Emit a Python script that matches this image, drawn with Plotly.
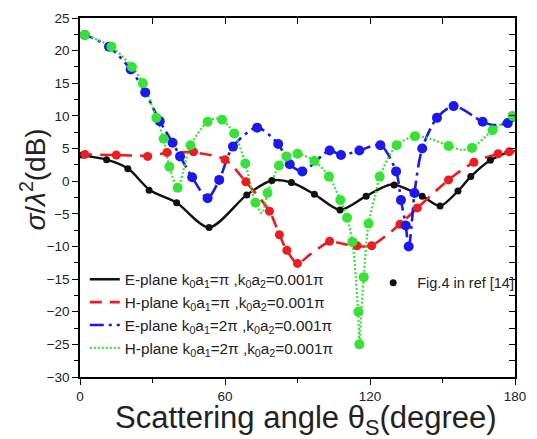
import plotly.graph_objects as go

# ---------------- data ----------------
# theory curves (scattering angle in degree, sigma/lambda^2 in dB)
black_theta = [0, 11, 20, 29, 40, 53.4, 69, 79.4, 87.5, 97, 107.6, 118.4, 129, 141.6, 149, 156.4, 161.7, 169.8, 177.6, 180]
black_db = [4.0, 3.3, 1.9, -1.4, -3.3, -7.1, -2.1, 0.1, -0.2, -2.0, -4.4, -2.3, -0.5, -2.3, -3.8, -1.5, 0.7, 3.2, 4.5, 4.6]

red_theta = [0, 15, 28, 36, 47, 60, 68.6, 78.4, 82.5, 85.6, 90, 95, 103.3, 110, 117, 121, 132.4, 139.6, 152.5, 163, 173, 180]
red_db = [4.1, 4.0, 3.9, 4.3, 4.4, 3.3, -0.1, -4.6, -8.2, -10.6, -12.6, -11.3, -9.3, -9.7, -10.0, -9.8, -6.6, -4.1, 0.2, 2.9, 4.2, 4.6]

blue_theta = [0, 2, 12, 21, 27, 33, 38.3, 41.4, 46.4, 52.8, 57.6, 63.3, 73.3, 82, 86.8, 92, 103.3, 108, 115.6, 124.3,
              130.8, 132.8, 134.8, 136, 137.2, 138.4, 141.6, 147.7, 154.6, 166.6, 171, 177, 180]
blue_db = [22.5, 22.4, 20.6, 17.1, 13.6, 9.2, 5.9, 3.8, 0.6, -2.6, 0.2, 5.3, 8.2, 5.7, 2.6, 1.5, 4.7, 4.0, 4.7, 5.5,
           1.5, -2.9, -6.8, -10.4, -6.8, -1.8, 5.0, 9.7, 11.5, 9.1, 8.6, 8.9, 9.5]

green_theta = [0, 2, 13, 21.5, 26, 31.6, 34.6, 37, 40.4, 45.7, 52.8, 56, 58.8, 63.8, 68.4, 72.6, 75.3, 77.6, 82.3, 85.4,
               90, 97, 103, 107.7, 110.5, 112.7, 114.2, 115.1, 115.7, 116.4, 117.4, 119.4, 122.3, 124, 131, 138.6,
               145, 152.5, 158, 162.2, 170.7, 179, 180]
green_db = [22.6, 22.4, 20.6, 17.5, 15.0, 9.7, 6.5, 2.2, -1.0, 5.5, 9.1, 9.6, 9.4, 7.3, 2.7, -3.3, -4.9, -1.8, 2.4, 3.8,
            4.2, 3.1, 0.7, -2.9, -5.6, -9.3, -15.0, -20.0, -25.2, -20.0, -14.7, -6.5, -2.0, 0.7, 5.5, 6.9,
            6.5, 5.4, 4.8, 5.1, 7.8, 10.0, 10.1]

# reference data points (Fig.4 in ref [14])
black_ref_theta = [1, 11, 19.8, 28.6, 40, 53.4, 69, 79.4, 87.5, 97, 107.6, 118.4, 130, 141.6, 149, 156.4, 161.7, 169.8, 177.6]
black_ref_db = [4.0, 3.3, 1.9, -1.4, -3.3, -7.1, -2.1, 0.1, -0.2, -2.0, -4.4, -2.3, -0.6, -2.3, -3.8, -1.5, 0.7, 3.2, 4.5]

red_ref_theta = [2, 15, 28, 36, 47, 60, 68.6, 78.4, 82.5, 85.6, 90, 103.3, 114.6, 120.7, 132.4, 139.6, 152.5, 163, 173, 177.6]
red_ref_db = [4.1, 4.0, 3.8, 4.4, 4.5, 3.3, -0.1, -4.6, -8.2, -10.6, -12.6, -9.2, -9.9, -9.9, -6.6, -4.1, 0.2, 2.9, 4.2, 4.5]

blue_ref_theta = [2, 12, 21, 27, 33, 38.3, 41.4, 46.4, 52.8, 57.6, 63.3, 73.3, 82, 86.8, 92, 103.3, 108, 115.6, 124.3,
                  130.8, 132.8, 134.8, 136, 138.4, 141.6, 147.7, 154.6, 166.6, 177]
blue_ref_db = [22.4, 20.6, 17.1, 13.6, 9.2, 5.9, 3.8, 0.6, -2.6, 0.2, 5.3, 8.2, 5.7, 2.6, 1.5, 4.7, 4.0, 4.7, 5.5,
               1.5, -2.9, -6.8, -10.0, -1.8, 5.0, 9.7, 11.5, 9.1, 8.9]

green_ref_theta = [2, 13, 21.5, 26, 31.6, 34.6, 37, 40.4, 45.7, 52.8, 58.8, 63.8, 68.4, 72.6, 77.6, 82.3, 85.4, 90, 97,
                   103, 107.7, 110.5, 112.7, 115.2, 115.6, 117.4, 119.4, 124, 131, 138.6, 152.5, 162.2, 170.7, 179]
green_ref_db = [22.4, 20.6, 17.5, 15.0, 9.7, 6.5, 2.2, -1.0, 5.5, 9.1, 9.4, 7.3, 2.7, -3.3, -1.8, 2.4, 3.8, 4.2, 3.1,
                0.7, -2.9, -5.6, -9.3, -20.0, -25.0, -14.7, -6.5, 0.7, 5.5, 6.9, 5.4, 5.1, 7.8, 10.0]

series_names = [
    "E-plane k<sub>0</sub>a<sub>1</sub>=π ,k<sub>0</sub>a<sub>2</sub>=0.001π",
    "H-plane k<sub>0</sub>a<sub>1</sub>=π ,k<sub>0</sub>a<sub>2</sub>=0.001π",
    "E-plane k<sub>0</sub>a<sub>1</sub>=2π ,k<sub>0</sub>a<sub>2</sub>=0.001π",
    "H-plane k<sub>0</sub>a<sub>1</sub>=2π ,k<sub>0</sub>a<sub>2</sub>=0.001π",
]
ref_name = "\u00a0Fig.4 in ref [14]"

x_ticks = [0, 60, 120, 180]
y_ticks = [25, 20, 15, 10, 5, 0, -5, -10, -15, -20, -25, -30]

x_title = "Scattering angle θ<sub>S</sub>(degree)"
y_title = "<i>σ</i>/<i>λ</i><sup>2</sup>(dB)"

# ---------------- styling ----------------
FONT = "Liberation Sans, Arial, sans-serif"
c_black, c_red, c_blue, c_green = "#111111", "#ee1c1c", "#1a1aee", "#36e236"

fig = go.Figure()

lines = [
    (black_theta, black_db, c_black, "solid", 2.4),
    (red_theta, red_db, c_red, "12px,8px", 2.6),
    (blue_theta, blue_db, c_blue, "14px,5px,3px,5px", 2.6),
    (green_theta, green_db, c_green, "2px,2px", 2.2),
]
for (tx, ty, col, dash, w), name in zip(lines, series_names):
    fig.add_trace(go.Scatter(
        x=tx, y=ty, mode="lines", name=name,
        line=dict(color=col, width=w, dash=dash, shape="spline", smoothing=0.8),
        legend="legend", hoverinfo="skip",
    ))

refs = [
    (black_ref_theta, black_ref_db, c_black, 7),
    (red_ref_theta, red_ref_db, c_red, 9),
    (blue_ref_theta, blue_ref_db, c_blue, 10),
    (green_ref_theta, green_ref_db, c_green, 10),
]
for i, (tx, ty, col, sz) in enumerate(refs):
    fig.add_trace(go.Scatter(
        x=tx, y=ty, mode="markers", name=ref_name,
        marker=dict(color=col, size=sz, line=dict(width=0)),
        showlegend=(i == 0), legend="legend2", hoverinfo="skip",
    ))

# dummy trace to activate mirror axes (top/right, inward ticks)
fig.add_trace(go.Scatter(x=[None], y=[None], xaxis="x2", yaxis="y2", showlegend=False, hoverinfo="skip"))

axis_common = dict(showgrid=False, zeroline=False, linecolor="black", linewidth=1.5,
                   tickcolor="black", tickwidth=1.2, ticklen=6,
                   tickfont=dict(family=FONT, size=13.5, color="#222"))

fig.update_layout(
    width=537, height=439,
    margin=dict(l=80, r=11, t=13, b=62),
    paper_bgcolor="white", plot_bgcolor="white",
    font=dict(family=FONT, color="#222"),
    xaxis=dict(range=[0, 180], tickvals=x_ticks, ticks="outside", mirror=True, showline=True,
               minor=dict(dtick=30, tick0=0, ticks="outside", ticklen=4, tickcolor="black"),
               **axis_common),
    yaxis=dict(range=[-30, 25], tickvals=y_ticks, ticks="outside", mirror=True, showline=True,
               minor=dict(dtick=2.5, tick0=0, ticks="outside", ticklen=4, tickcolor="black"),
               **axis_common),
    xaxis2=dict(range=[0, 180], overlaying="x", side="top", anchor="y", dtick=30, tick0=0,
                ticks="inside", showticklabels=False, showline=False, showgrid=False, zeroline=False,
                ticklen=6, tickcolor="black", tickwidth=1.2),
    yaxis2=dict(range=[-30, 25], overlaying="y", side="right", anchor="x", dtick=2.5, tick0=0,
                ticks="inside", showticklabels=False, showline=False, showgrid=False, zeroline=False,
                ticklen=6, tickcolor="black", tickwidth=1.2),
    legend=dict(x=0.011, y=0.318, xanchor="left", yanchor="top", bgcolor="rgba(0,0,0,0)",
                font=dict(family=FONT, size=15.3, color="#222"), tracegroupgap=0),
    legend2=dict(x=0.674, y=0.307, xanchor="left", yanchor="top", bgcolor="rgba(0,0,0,0)",
                 font=dict(family=FONT, size=14.5, color="#222")),
    annotations=[
        dict(text=x_title, xref="paper", yref="paper", x=0.52, y=-0.12, xanchor="center", yanchor="middle",
             showarrow=False, font=dict(family=FONT, size=31, color="#222")),
        dict(text=y_title, xref="paper", yref="paper", x=-0.108, y=0.55, xanchor="center", yanchor="middle",
             textangle=-90, showarrow=False, font=dict(family=FONT, size=28, color="#222")),
    ],
)

fig.write_html("out.html")
